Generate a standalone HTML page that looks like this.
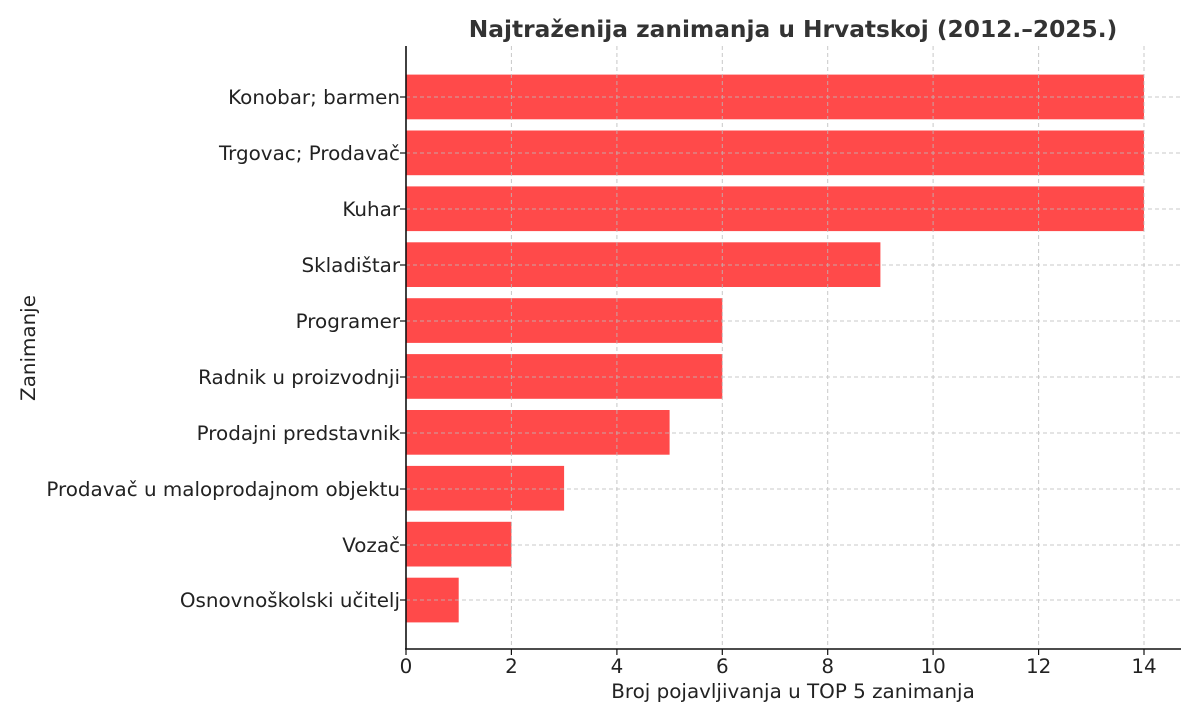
<!DOCTYPE html>
<html><head><meta charset="utf-8"><style>body{margin:0;background:#fff}</style></head><body>
<svg width="1199" height="720" xmlns="http://www.w3.org/2000/svg" font-family="DejaVu Sans, Liberation Sans, sans-serif">
<rect width="1199" height="720" fill="#fff"/>
<g fill="#ff4a4a">
<rect x="406" y="74.6" width="738" height="44.7"/>
<rect x="406" y="130.5" width="738" height="44.7"/>
<rect x="406" y="186.4" width="738" height="44.7"/>
<rect x="406" y="242.3" width="474.4" height="44.7"/>
<rect x="406" y="298.2" width="316.3" height="44.7"/>
<rect x="406" y="354.1" width="316.3" height="44.7"/>
<rect x="406" y="410" width="263.6" height="44.7"/>
<rect x="406" y="465.9" width="158.1" height="44.7"/>
<rect x="406" y="521.8" width="105.4" height="44.7"/>
<rect x="406" y="577.7" width="52.7" height="44.7"/>
</g>
<g stroke="#bbb" stroke-width="1" stroke-dasharray="4,3" opacity="0.8">
<line x1="511.4" y1="46" x2="511.4" y2="648"/><line x1="616.9" y1="46" x2="616.9" y2="648"/>
<line x1="722.3" y1="46" x2="722.3" y2="648"/><line x1="827.7" y1="46" x2="827.7" y2="648"/>
<line x1="933.1" y1="46" x2="933.1" y2="648"/><line x1="1038.6" y1="46" x2="1038.6" y2="648"/>
<line x1="1144" y1="46" x2="1144" y2="648"/>
<line x1="406" y1="97" x2="1181" y2="97"/><line x1="406" y1="153" x2="1181" y2="153"/>
<line x1="406" y1="209" x2="1181" y2="209"/><line x1="406" y1="265" x2="1181" y2="265"/>
<line x1="406" y1="321" x2="1181" y2="321"/><line x1="406" y1="377" x2="1181" y2="377"/>
<line x1="406" y1="433" x2="1181" y2="433"/><line x1="406" y1="489" x2="1181" y2="489"/>
<line x1="406" y1="545" x2="1181" y2="545"/><line x1="406" y1="600" x2="1181" y2="600"/>
</g>
<g stroke="#111" stroke-width="1.6">
<line x1="406" y1="46" x2="406" y2="649"/><line x1="405" y1="649" x2="1181" y2="649"/>
<g stroke-width="1.2">
<line x1="400" y1="97" x2="406" y2="97"/><line x1="400" y1="153" x2="406" y2="153"/><line x1="400" y1="209" x2="406" y2="209"/><line x1="400" y1="265" x2="406" y2="265"/><line x1="400" y1="321" x2="406" y2="321"/><line x1="400" y1="377" x2="406" y2="377"/><line x1="400" y1="433" x2="406" y2="433"/><line x1="400" y1="489" x2="406" y2="489"/><line x1="400" y1="545" x2="406" y2="545"/><line x1="400" y1="600" x2="406" y2="600"/>
<line x1="406" y1="649" x2="406" y2="655"/><line x1="511.4" y1="649" x2="511.4" y2="655"/><line x1="616.9" y1="649" x2="616.9" y2="655"/><line x1="722.3" y1="649" x2="722.3" y2="655"/><line x1="827.7" y1="649" x2="827.7" y2="655"/><line x1="933.1" y1="649" x2="933.1" y2="655"/><line x1="1038.6" y1="649" x2="1038.6" y2="655"/><line x1="1144" y1="649" x2="1144" y2="655"/>
</g></g>
<g font-size="19.9" fill="#222" text-anchor="end">
<text x="400" y="104">Konobar; barmen</text>
<text x="400" y="160">Trgovac; Prodavač</text>
<text x="400" y="216">Kuhar</text>
<text x="400" y="272">Skladištar</text>
<text x="400" y="328">Programer</text>
<text x="400" y="384">Radnik u proizvodnji</text>
<text x="400" y="440">Prodajni predstavnik</text>
<text x="400" y="496">Prodavač u maloprodajnom objektu</text>
<text x="400" y="552">Vozač</text>
<text x="400" y="607">Osnovnoškolski učitelj</text>
</g>
<g font-size="19.9" fill="#222" text-anchor="middle">
<text x="406" y="673">0</text><text x="511.4" y="673">2</text><text x="616.9" y="673">4</text><text x="722.3" y="673">6</text><text x="827.7" y="673">8</text><text x="933.1" y="673">10</text><text x="1038.6" y="673">12</text><text x="1144" y="673">14</text>
<text x="793" y="698">Broj pojavljivanja u TOP 5 zanimanja</text>
<text transform="translate(35,348) rotate(-90)">Zanimanje</text>
<text x="793" y="37" font-size="23.3" font-weight="bold" fill="#333">Najtraženija zanimanja u Hrvatskoj (2012.–2025.)</text>
</g>
</svg>
</body></html>
